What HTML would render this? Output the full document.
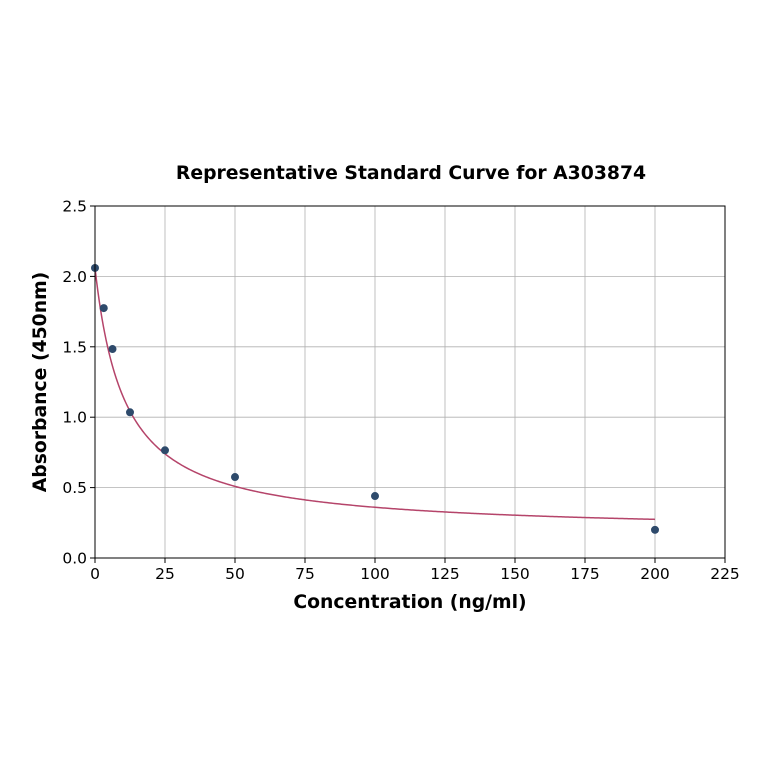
<!DOCTYPE html>
<html><head><meta charset="utf-8"><style>
body{margin:0;background:#fff}
svg{font-family:"DejaVu Sans","Liberation Sans",sans-serif}
</style></head><body>
<svg id="c" width="764" height="764" viewBox="0 0 764 764">
<rect width="764" height="764" fill="#fff"/>
<text x="411" y="179" text-anchor="middle" font-size="18.8" font-weight="bold">Representative Standard Curve for A303874</text>
<g id="grid"></g><g id="ticks"></g><g id="curve"></g><g id="pts"></g>
<rect x="95" y="206" width="630" height="352" fill="none" stroke="#000" stroke-width="1"/>
<text x="410" y="608" text-anchor="middle" font-size="18.8" font-weight="bold">Concentration (ng/ml)</text>
<text transform="translate(46,382) rotate(-90)" text-anchor="middle" font-size="18.8" font-weight="bold">Absorbance (450nm)</text>
</svg>
<script>
const concentrations=[0,3.125,6.25,12.5,25,50,100,200];
const absorbances=[2.06,1.775,1.484,1.035,0.765,0.575,0.44,0.2];
const xTicks=[0,25,50,75,100,125,150,175,200,225];
const yTicks=[0.0,0.5,1.0,1.5,2.0,2.5];
const fitParams=[2.06,1.0,10.6,0.18]; // a,b,c,d of 4PL fit
const NS='http://www.w3.org/2000/svg';
const X=v=>95+v*630/225, Y=v=>558-v*352/2.5;
function mk(t,a,p){const e=document.createElementNS(NS,t);for(const k in a)e.setAttribute(k,a[k]);p.appendChild(e);return e;}
const g=document.getElementById('grid'),tk=document.getElementById('ticks');
xTicks.forEach(v=>{
 const l=mk('line',{x1:X(v),x2:X(v),y1:206,y2:558,stroke:'#b0b0b0','stroke-width':0.8},g);
 
 
 mk('line',{x1:X(v),x2:X(v),y1:558,y2:563,stroke:'#000'},tk);
 const t=mk('text',{x:X(v),y:579,'text-anchor':'middle','font-size':15.5},tk);t.textContent=v;
 
 
});
yTicks.forEach(v=>{
 const l=mk('line',{x1:95,x2:725,y1:Y(v),y2:Y(v),stroke:'#b0b0b0','stroke-width':0.8},g);
 
 
 mk('line',{x1:90,x2:95,y1:Y(v),y2:Y(v),stroke:'#000'},tk);
 const t=mk('text',{x:87,y:Y(v)+5.5,'text-anchor':'end','font-size':15.5},tk);t.textContent=v.toFixed(1);
 
 
});
const [a,b,c,d]=fitParams;let dstr='';
for(let i=0;i<=400;i++){const x=200*i/400;const y=d+(a-d)/(1+Math.pow(x/c,b));dstr+=(i?'L':'M')+X(x).toFixed(2)+','+Y(y).toFixed(2);}
const p=mk('path',{d:dstr,fill:'none',stroke:'#b5446a','stroke-width':1.5},document.getElementById('curve'));


concentrations.forEach((x,i)=>{
 const ci=mk('circle',{cx:X(x),cy:Y(absorbances[i]),r:4,fill:'#2e4a6b'},document.getElementById('pts'));
 
 
});
</script>
</body></html>
